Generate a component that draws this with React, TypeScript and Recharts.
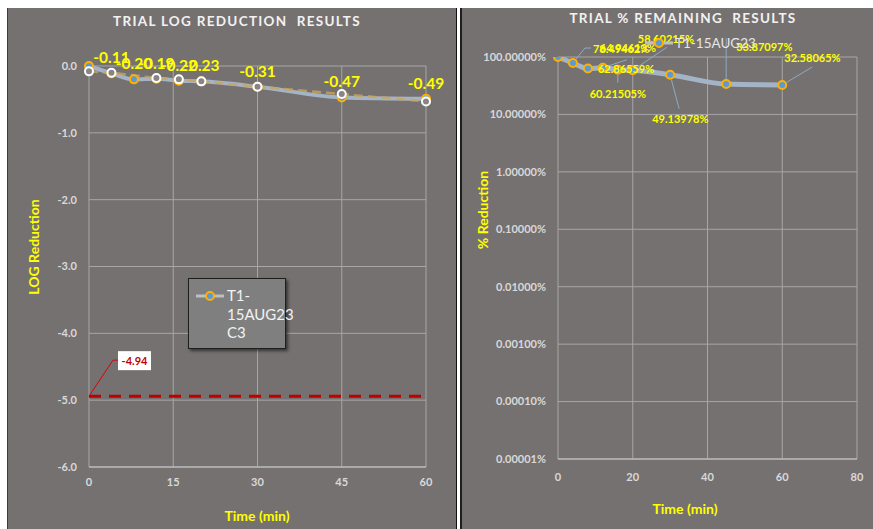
import React from 'react';
import {
  ComposedChart, Line, XAxis, YAxis, CartesianGrid, ReferenceLine, LabelList,
} from 'recharts';

// ---------- data ----------
const times = [0, 4, 8, 12, 16, 20, 30, 45, 60];
const logReduction = [0, -0.11, -0.2, -0.19, -0.22, -0.23, -0.31, -0.47, -0.49];
const pctRemaining = [100, 78.49462, 62.86559, 64.94613, 60.21505, 58.60215, 49.13978, 33.87097, 32.58065];
const replicateTimes = [0, 4, 12, 16, 20, 30, 45, 60];
const replicateLog = [-0.08, -0.1, -0.18, -0.2, -0.23, -0.31, -0.42, -0.53];
const targetLog = -4.94;

const leftXTicks = [0, 15, 30, 45, 60];
const leftYTicks = [0, -1, -2, -3, -4, -5, -6];
const rightXTicks = [0, 20, 40, 60, 80];
const rightYTicks = [100, 10, 1, 0.1, 0.01, 0.001, 0.0001, 0.00001];

const seriesName = 'T1-15AUG23';
const seriesNameLeft = ['T1-', '15AUG23', 'C3'];

const mainRows = times.map((t, i) => ({ t, log: logReduction[i], pct: pctRemaining[i] }));
const repRows = replicateTimes.map((t, i) => ({ t, log: replicateLog[i] }));

// ---------- styles ----------
const FONT = 'Lato, "Open Sans", sans-serif';
const BG = '#767171';
const GRID = '#a6a6a6';
const TICK = { fill: '#d9d9d9', fontSize: 11, fontWeight: 700, fontFamily: FONT };
const YELLOW = '#ffff00';
const ORANGE = '#ffb000';
const BLUEFILL = '#5b9bd5';
const LINEBLUE = '#a3b4c7';
const LEADER = '#8fa9c6';

// label layout for right chart (offsets relative to each point)
const pctLabelLayout: any[] = [
  null,
  { dx: 20, dy: -15, anchor: 'start', leader: [[12, -15], [18, -15]] },
  { dx: 10, dy: 0, anchor: 'start', leader: null },
  { dx: -3, dy: -20, anchor: 'start', leader: [[24, -8]] },
  { dx: 0, dy: 24, anchor: 'middle', leader: [[0, 13]] },
  { dx: 5, dy: -32, anchor: 'start', leader: [[34, -23]] },
  { dx: -18, dy: 44, anchor: 'start', leader: [[9, 34]] },
  { dx: 10, dy: -38, anchor: 'start', leader: [[0, -46]] },
  { dx: 2, dy: -27, anchor: 'start', leader: [[30, -18]] },
];

const LeftLabel = (props: any) => {
  const { x, y, value, index } = props;
  if (index === 0 || x == null) return null;
  return (
    <text x={x} y={y - 10} textAnchor="middle" fill={YELLOW} fontSize={15.5}
      fontWeight={700} fontFamily={FONT}>{Number(value).toFixed(2)}</text>
  );
};

const RightLabel = (props: any) => {
  const { x, y, value, index } = props;
  const lay = pctLabelLayout[index];
  if (!lay || x == null) return null;
  let path = '';
  if (lay.leader) {
    const first = lay.leader[0];
    const len = Math.hypot(first[0], first[1]) || 1;
    const sx = x + (first[0] / len) * 5;
    const sy = y + (first[1] / len) * 5;
    path = `M${sx},${sy}` + lay.leader.map((p: number[]) => ` L${x + p[0]},${y + p[1]}`).join('');
  }
  return (
    <g>
      {path && <path d={path} stroke={LEADER} strokeWidth={1} fill="none" />}
      <text x={x + lay.dx} y={y + lay.dy} textAnchor={lay.anchor} dominantBaseline="central"
        fill={YELLOW} fontSize={11} fontWeight={700} fontFamily={FONT}>
        {Number(value).toFixed(5) + '%'}
      </text>
    </g>
  );
};

const TargetLabel = (props: any) => {
  const vb = props.viewBox || {};
  const x = vb.x ?? 0;
  const y = vb.y ?? 0;
  return (
    <g>
      <path d={`M${x},${y} L${x + 24},${y - 36} L${x + 30},${y - 36}`} stroke="#e00000" strokeWidth={1} fill="none" />
      <rect x={x + 29} y={y - 45} width={33} height={19} fill="#ffffff" />
      <text x={x + 45.5} y={y - 35.5} textAnchor="middle" dominantBaseline="central"
        fill="#c00000" fontSize={11} fontWeight={700} fontFamily={FONT}>{targetLog.toFixed(2)}</text>
    </g>
  );
};

const titleStyle: React.CSSProperties = {
  position: 'absolute', transform: 'translate(-50%, -50%)', whiteSpace: 'nowrap',
  color: '#f2f2f2', fontSize: 13.5, fontWeight: 700, letterSpacing: 1.3, fontFamily: FONT,
};
const axisTitleStyle: React.CSSProperties = {
  position: 'absolute', whiteSpace: 'nowrap', color: YELLOW, fontSize: 14,
  fontWeight: 700, fontFamily: FONT,
};

const MarkerIcon = ({ w }: { w: number }) => (
  <svg width={w} height={12} style={{ display: 'block' }}>
    <line x1={0} y1={6} x2={w} y2={6} stroke="#bfbfbf" strokeWidth={3} />
    <circle cx={w / 2} cy={6} r={4} stroke={ORANGE} strokeWidth={2} fill={BLUEFILL} />
  </svg>
);

export default function App() {
  return (
    <div style={{ position: 'absolute', left: 0, top: 0, width: 873, height: 529, background: '#ffffff', fontFamily: FONT, overflow: 'hidden' }}>
      {/* left panel */}
      <div style={{ position: 'absolute', left: 7, top: 8, width: 449, height: 521, background: '#3c3c3c' }} />
      <div style={{ position: 'absolute', left: 8, top: 8, width: 448, height: 521, background: BG }}>
        <ComposedChart width={448} height={521} data={mainRows}
          margin={{ top: 58, right: 30, bottom: 32, left: 0 }}>
          <CartesianGrid stroke={GRID} strokeWidth={1} />
          <XAxis dataKey="t" type="number" domain={[0, 60]} ticks={leftXTicks} interval={0}
            tick={TICK} tickLine={false} axisLine={{ stroke: '#c8c8c8' }} height={30} tickMargin={5} />
          <YAxis type="number" domain={[-6, 0]} ticks={leftYTicks} interval={0} width={81}
            tick={TICK} tickLine={false} axisLine={false} tickMargin={6}
            tickFormatter={(v: number) => v.toFixed(1)} />
          <ReferenceLine y={targetLog} stroke="#c00000" strokeWidth={3} strokeDasharray="12 8"
            ifOverflow="extendDomain" label={<TargetLabel />} />
          <Line dataKey="log" type="monotone" stroke={LINEBLUE} strokeWidth={4}
            dot={{ r: 4, stroke: ORANGE, strokeWidth: 2, fill: BLUEFILL }} isAnimationActive={false}>
            <LabelList dataKey="log" content={<LeftLabel />} />
          </Line>
          <Line data={repRows} dataKey="log" type="linear" stroke="#c9a55a" strokeWidth={2.5}
            strokeDasharray="9 5" strokeOpacity={0.8} isAnimationActive={false}
            dot={{ r: 4, stroke: '#ffffff', strokeWidth: 2, fill: '#8a8585', strokeDasharray: '0', strokeOpacity: 1 }} />
        </ComposedChart>

        <div style={{ ...titleStyle, left: 229, top: 13 }}>TRIAL LOG REDUCTION&nbsp; RESULTS</div>
        <div style={{ ...axisTitleStyle, left: 25, top: 239, transform: 'translate(-50%, -50%) rotate(-90deg)' }}>LOG Reduction</div>
        <div style={{ ...axisTitleStyle, left: 249, top: 507, transform: 'translate(-50%, -50%)' }}>Time (min)</div>

        {/* legend */}
        <div style={{
          position: 'absolute', left: 180, top: 270, width: 96, height: 69, background: '#7f7f7f',
          border: '1px solid #1e1e1e', boxShadow: '2px 2px 3px rgba(0,0,0,0.55)',
        }}>
          <div style={{ position: 'absolute', left: 7, top: 11 }}><MarkerIcon w={28} /></div>
          <div style={{ position: 'absolute', left: 38, top: 7, color: '#f2f2f2', fontSize: 15, lineHeight: '18.5px', fontFamily: FONT }}>
            {seriesNameLeft.map((s) => <div key={s}>{s}</div>)}
          </div>
        </div>
      </div>

      {/* separator */}
      <div style={{ position: 'absolute', left: 456, top: 8, width: 1, height: 521, background: '#111' }} />
      <div style={{ position: 'absolute', left: 460, top: 8, width: 2, height: 521, background: '#1e1e1e' }} />

      {/* right panel */}
      <div style={{ position: 'absolute', left: 462, top: 8, width: 411, height: 521, background: BG }}>
        <ComposedChart width={411} height={521} data={mainRows}
          margin={{ top: 49, right: 16, bottom: 40, left: 0 }}>
          <CartesianGrid stroke={GRID} strokeWidth={1} />
          <XAxis dataKey="t" type="number" domain={[0, 80]} ticks={rightXTicks} interval={0}
            tick={TICK} tickLine={false} axisLine={{ stroke: '#c8c8c8' }} height={30} tickMargin={8} />
          <YAxis type="number" scale="log" domain={[0.00001, 100]} allowDataOverflow ticks={rightYTicks}
            interval={0} width={96} tick={TICK} tickLine={false} axisLine={false} tickMargin={6}
            tickFormatter={(v: number) => v.toFixed(5) + '%'} />
          <Line dataKey="pct" type="monotone" stroke={LINEBLUE} strokeWidth={5}
            dot={{ r: 4, stroke: ORANGE, strokeWidth: 2, fill: BLUEFILL }} isAnimationActive={false}>
            <LabelList dataKey="pct" content={<RightLabel />} />
          </Line>
        </ComposedChart>

        <div style={{ ...titleStyle, left: 221, top: 10 }}>TRIAL % REMAINING&nbsp; RESULTS</div>
        <div style={{ ...axisTitleStyle, left: 20, top: 202, transform: 'translate(-50%, -50%) rotate(-90deg)' }}>% Reduction</div>
        <div style={{ ...axisTitleStyle, left: 223, top: 500, transform: 'translate(-50%, -50%)' }}>Time (min)</div>

        {/* legend */}
        <div style={{ position: 'absolute', left: 183, top: 28, display: 'flex', alignItems: 'center' }}>
          <MarkerIcon w={28} />
          <span style={{ marginLeft: 2, color: '#e6e6e6', fontSize: 13.5, fontFamily: FONT, lineHeight: '14px' }}>{seriesName}</span>
        </div>
      </div>
    </div>
  );
}
